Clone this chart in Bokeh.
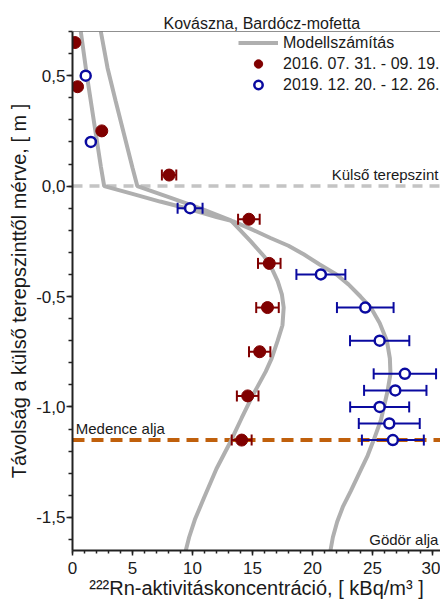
import numpy as np
from bokeh.plotting import figure
from bokeh.models import (Span, Label, Legend, LegendItem, FixedTicker,
                          CustomJSTickFormatter, Range1d)
from bokeh.embed import file_html
from bokeh.resources import INLINE

# ---------------- data ----------------
title_text = "Kovászna, Bardócz-mofetta"
x_label = "²²²Rn-aktivitáskoncentráció, [ kBq/m³ ]"
y_label = "Távolság a külső terepszinttől mérve, [ m ]"
x_ticks = [0, 5, 10, 15, 20, 25, 30]
x_minor = [i for i in range(0, 31)]
y_ticks = [-1.5, -1.0, -0.5, 0.0, 0.5]
y_minor = [round(-1.6 + 0.1 * i, 1) for i in range(0, 24)]

model_label = "Modellszámítás"
model_red_conc = [2.36, 2.92, 3.6, 4.3, 5.0, 5.4, 8.2, 10.6, 13.2, 14.86, 16.0, 16.5,
                  17.1, 17.45, 17.6, 17.5, 17.1, 16.6, 16.1, 15.0, 14.1, 13.2, 12.0,
                  10.97, 10.2, 9.72, 9.44]
model_red_depth = [0.70, 0.535, 0.384, 0.234, 0.083, 0.0, -0.053, -0.10, -0.155, -0.25,
                   -0.32, -0.36, -0.43, -0.49, -0.55, -0.63, -0.70, -0.78, -0.84, -0.95,
                   -1.05, -1.154, -1.28, -1.41, -1.51, -1.59, -1.65]
model_blue_conc = [0.69, 1.2, 1.85, 2.36, 2.64, 5.0, 7.3, 9.8, 12.0, 13.4, 14.9, 16.5,
                   18.0, 19.3, 20.6, 22.0, 23.0, 24.0, 24.86, 25.6, 26.2, 26.45, 26.5,
                   26.25, 25.7, 25.1, 24.6, 23.9, 23.2, 22.55, 22.06, 21.7, 21.5]
model_blue_depth = [0.70, 0.50, 0.27, 0.09, 0.0, -0.035, -0.07, -0.105, -0.14, -0.16,
                    -0.195, -0.235, -0.27, -0.31, -0.355, -0.40, -0.445, -0.50, -0.55,
                    -0.62, -0.70, -0.78, -0.85, -0.93, -1.06, -1.15, -1.22, -1.30, -1.38,
                    -1.45, -1.52, -1.59, -1.65]

red_label = "2016. 07. 31. - 09. 19."
red_depth = [0.65, 0.45, 0.25, 0.05, -0.15, -0.35, -0.55, -0.75, -0.95, -1.15]
red_conc = [0.2, 0.42, 2.44, 8.05, 14.7, 16.4, 16.25, 15.6, 14.6, 14.1]
red_err = [0.0, 0.0, 0.0, 0.6, 0.9, 0.94, 0.94, 0.89, 0.9, 0.83]

blue_label = "2019. 12. 20. - 12. 26."
blue_depth = [0.5, 0.2, -0.1, -0.4, -0.55, -0.7, -0.85, -0.925, -1.0, -1.075, -1.15]
blue_conc = [1.1, 1.53, 9.8, 20.7, 24.4, 25.6, 27.7, 26.9, 25.6, 26.4, 26.7]
blue_err = [0.0, 0.0, 1.04, 2.04, 2.36, 2.47, 2.6, 2.6, 2.46, 2.54, 2.58]

ground_label = "Külső terepszint"
ground_level = 0.0
basin_label = "Medence alja"
basin_level = -1.15
pit_label = "Gödör alja"
pit_level = -1.65

# ---------------- style ----------------
FONT = "Liberation Sans"
RED = "#800000"
BLUE = "#0a0aa0"
GRAY = "#afafaf"
ORANGE = "#c0600c"
TXT = "#1a1a1a"

p = figure(width=440, height=603, x_range=Range1d(0, 30.67), y_range=Range1d(-1.65, 0.7),
           output_backend="svg", toolbar_location=None,
           min_border_left=72, min_border_right=0, min_border_top=31, min_border_bottom=53)
p.background_fill_color = "white"
p.border_fill_color = "white"
p.outline_line_color = None
p.xgrid.visible = False
p.ygrid.visible = False

p.title.text = title_text
p.title.text_font = FONT
p.title.text_font_size = "16px"
p.title.text_font_style = "normal"
p.title.text_color = TXT
p.title.align = "left"
p.title.offset = 91
p.title.standoff = 0

# axes
for ax in (p.xaxis[0], p.yaxis[0]):
    ax.axis_line_width = 2
    ax.axis_line_color = "#222222"
    ax.major_tick_line_width = 1.5
    ax.minor_tick_line_width = 1.5
    ax.major_tick_line_color = "#222222"
    ax.minor_tick_line_color = "#222222"
    ax.major_tick_in = 0
    ax.minor_tick_in = 0
    ax.major_label_text_font = FONT
    ax.major_label_text_font_size = "17px"
    ax.major_label_text_color = TXT
    ax.axis_label_text_font = FONT
    ax.axis_label_text_font_size = "20px"
    ax.axis_label_text_font_style = "normal"
    ax.axis_label_text_color = TXT

xa = p.xaxis[0]
xa.ticker = FixedTicker(ticks=x_ticks, minor_ticks=x_minor)
xa.major_tick_out = 5
xa.minor_tick_out = 3
xa.major_label_standoff = 6
xa.axis_label = x_label
xa.axis_label_standoff = 0

ya = p.yaxis[0]
ya.ticker = FixedTicker(ticks=y_ticks, minor_ticks=y_minor)
ya.formatter = CustomJSTickFormatter(code="return tick.toFixed(1).replace('.', ',');")
ya.major_tick_out = 6
ya.minor_tick_out = 4
ya.major_label_standoff = 1
ya.axis_label = y_label
ya.axis_label_standoff = 3

# top frame line
p.add_layout(Span(location=p.y_range.end, dimension="width", line_color="#222222",
                  line_width=1.2))

# reference levels
p.add_layout(Span(location=ground_level, dimension="width", line_color="#c4c4c4",
                  line_width=3.5, line_dash="10 7", level="underlay"))
p.add_layout(Span(location=basin_level, dimension="width", line_color=ORANGE,
                  line_width=4, line_dash="12 7", level="underlay"))

# model curves
r_model = p.line(model_red_conc, model_red_depth, line_color=GRAY, line_width=4)
p.line(model_blue_conc, model_blue_depth, line_color=GRAY, line_width=4)

def error_bars(conc, depth, err, color):
    c = np.array(conc); d = np.array(depth); e = np.array(err)
    m = e > 0
    lo = c[m] - e[m]; hi = c[m] + e[m]
    p.segment(x0=lo, y0=d[m], x1=hi, y1=d[m], line_color=color, line_width=2)
    p.scatter(x=np.concatenate([lo, hi]), y=np.concatenate([d[m], d[m]]), marker="dash",
              angle=np.pi / 2, size=11, line_color=color, line_width=2)

error_bars(red_conc, red_depth, red_err, RED)
error_bars(blue_conc, blue_depth, blue_err, BLUE)

r_red = p.scatter(red_conc, red_depth, marker="circle", size=12, fill_color=RED,
                  line_color=RED, line_width=1)
r_blue = p.scatter(blue_conc, blue_depth, marker="circle", size=10, fill_color="white",
                   line_color=BLUE, line_width=2.5)

# annotation texts
p.add_layout(Label(x=p.x_range.end - 0.17, y=ground_level + 0.012, text=ground_label,
                   text_align="right", text_baseline="bottom", text_font=FONT,
                   text_font_size="15px", text_color=TXT))
p.add_layout(Label(x=0.27, y=basin_level + 0.052, text=basin_label,
                   text_align="left", text_baseline="alphabetic", text_font=FONT,
                   text_font_size="15px", text_color=TXT))
p.add_layout(Label(x=p.x_range.end - 0.17, y=pit_level + 0.052, text=pit_label,
                   text_align="right", text_baseline="alphabetic", text_font=FONT,
                   text_font_size="15px", text_color=TXT))

legend = Legend(items=[LegendItem(label=model_label, renderers=[r_model]),
                       LegendItem(label=red_label, renderers=[r_red]),
                       LegendItem(label=blue_label, renderers=[r_blue])],
                location=(166, 455), border_line_color=None, background_fill_alpha=0,
                padding=0, margin=0, spacing=0, label_standoff=5, glyph_width=40,
                glyph_height=21, label_height=21, label_text_font=FONT,
                label_text_font_size="16px", label_text_color=TXT)
p.add_layout(legend)

open("out.html", "w").write(file_html(p, INLINE))
